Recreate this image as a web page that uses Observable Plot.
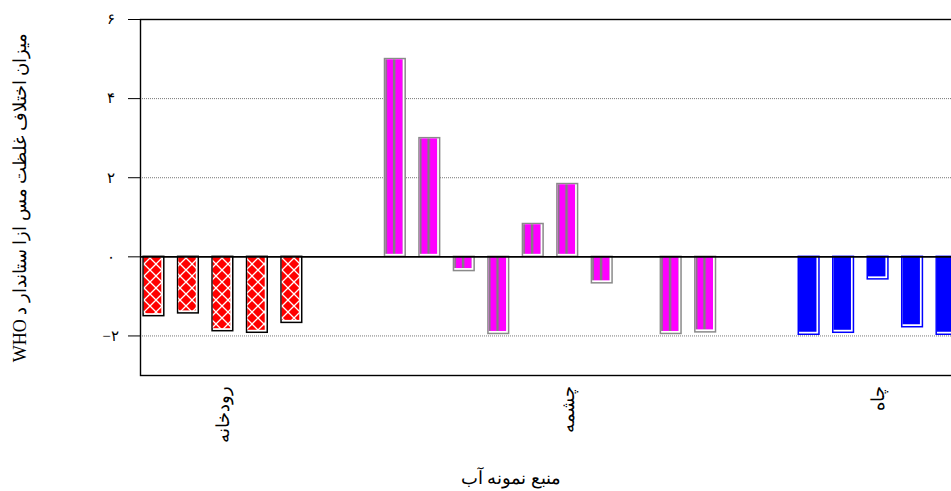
<!DOCTYPE html>
<html>
<head>
<meta charset="utf-8">
<script src="https://cdn.jsdelivr.net/npm/d3@7"></script>
<script src="https://cdn.jsdelivr.net/npm/@observablehq/plot@0.6"></script>
<style>
  html, body { margin: 0; padding: 0; overflow: hidden; background: #fff; }
  #chart svg { max-width: none !important; }
</style>
</head>
<body>
<div id="chart"></div>
<script>
// Deviation of copper concentration from the WHO standard, per water source
const groups = ["رودخانه", "چشمه", "چاه"];
const riverValues = [-1.50, -1.43, -1.88, -1.92, -1.67];
const springValues = [5.0, 3.0, -0.36, -1.95, 0.83, 1.84, -0.67, 0, -1.95, -1.91];
const wellValues = [-1.97, -1.92, -0.57, -1.78, -1.97];
const yTicks = [-2, 0, 2, 4, 6];
const gridValues = [-2, 2, 4];
const yTitle = "میزان اختلاف غلظت مس ازا ستاندار د WHO";
const xTitle = "منبع نمونه آب";

// One slot per sample, two empty slots between sources
const GAP = 2;
const series = [riverValues, springValues, wellValues];
const rows = [];
const labelSlot = new Map();
let slot = 0;
series.forEach((vals, g) => {
  labelSlot.set(slot + Math.floor(vals.length / 2), groups[g]);
  vals.forEach(v => { rows.push({slot, group: groups[g], value: v}); slot++; });
  slot += GAP;
});
const slots = d3.range(slot - GAP);

const faDigits = "۰۱۲۳۴۵۶۷۸۹";
const toFa = v => String(v).replace("-", "−").replace(/\d/g, d => faDigits[+d]);

const looks = {
  "رودخانه": {edge: "#000000", fill: "url(#lattice)"},
  "چشمه": {edge: "#8a8a8a", fill: "url(#stripes)"},
  "چاه": {edge: "#0000ff", fill: "#0000ff"}
};

// Each bar: an outlined frame, then the fill inset on its right and bottom
const barMarks = groups.flatMap(g => {
  const data = rows.filter(d => d.group === g);
  return [
    Plot.barY(data, {x: "slot", y: "value", fill: "white", stroke: looks[g].edge, strokeWidth: 1.5}),
    Plot.barY(data, {x: "slot", y: "value", fill: looks[g].fill, filter: d => d.value !== 0,
      insetLeft: 0.75, insetTop: 0.75, insetRight: 2.5, insetBottom: 2.5})
  ];
});

const font = "'Liberation Serif', 'DejaVu Serif', serif";

const svg = Plot.plot({
  width: 960,
  height: 491,
  marginLeft: 140,
  marginRight: 0,
  marginTop: 19,
  marginBottom: 116,
  style: {fontFamily: font, fontSize: "14px", background: "white", color: "black"},
  x: {type: "band", domain: slots, paddingInner: 0.4, paddingOuter: 0.09, round: false, label: null},
  y: {domain: [-3, 6], label: null},
  marks: [
    Plot.ruleY(gridValues, {stroke: "#777", strokeDasharray: "1,1", strokeWidth: 1}),
    ...barMarks,
    Plot.ruleY([0], {stroke: "#000", strokeWidth: 1.6}),
    Plot.frame({stroke: "#000", strokeWidth: 1.4}),
    Plot.axisY(yTicks, {tickSize: 12, tickPadding: 18, textAnchor: "middle", tickFormat: toFa,
      fontSize: 15, label: null}),
    Plot.axisX([...labelSlot.keys()], {tickSize: 0, tickPadding: 10, tickRotate: -90,
      tickFormat: s => labelSlot.get(s), fontSize: 18, label: null}),
    // right-to-left title, so the Latin "WHO" ends up at its far end
    Plot.text([yTitle], {text: d => "\u2067" + d + "\u2069", frameAnchor: "left", dx: -120,
      rotate: -90, textAnchor: "middle", fontSize: 18}),
    Plot.text([xTitle], {text: d => d, frameAnchor: "bottom", dx: -40, dy: 108,
      textAnchor: "middle", fontSize: 18})
  ]
});

// Fill patterns for the river and spring bars
const defs = d3.select(svg).insert("defs", ":first-child");
const lattice = defs.append("pattern").attr("id", "lattice")
  .attr("patternUnits", "userSpaceOnUse").attr("width", 12).attr("height", 12);
lattice.append("rect").attr("width", 12).attr("height", 12).attr("fill", "#ff0000");
lattice.append("path").attr("d", "M0,0L12,12M12,0L0,12")
  .attr("stroke", "#ffffff").attr("stroke-width", 1.3).attr("fill", "none");

const stripes = defs.append("pattern").attr("id", "stripes")
  .attr("patternUnits", "objectBoundingBox").attr("patternContentUnits", "objectBoundingBox")
  .attr("width", 1).attr("height", 1);
stripes.append("rect").attr("width", 1).attr("height", 1).attr("fill", "#ff00ff");
stripes.append("rect").attr("x", 0).attr("width", 0.1).attr("height", 1).attr("fill", "#808080");
stripes.append("rect").attr("x", 0.44).attr("width", 0.14).attr("height", 1).attr("fill", "#808080");

document.getElementById("chart").appendChild(svg);
</script>
</body>
</html>
